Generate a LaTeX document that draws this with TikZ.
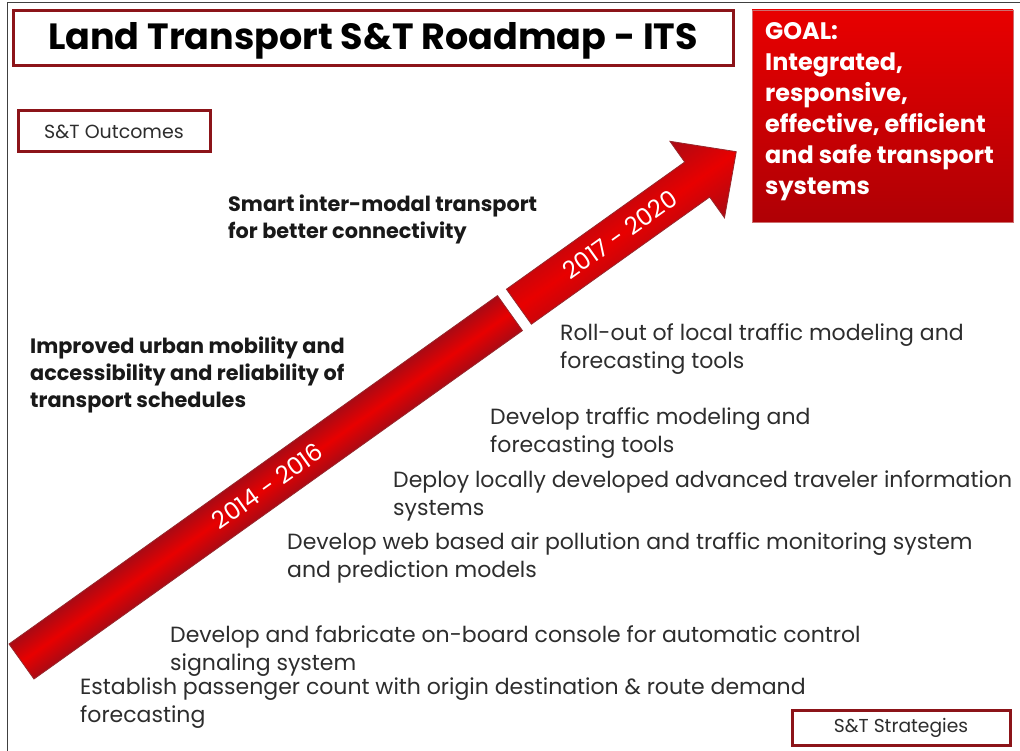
\documentclass[tikz,border=0pt]{standalone}
\usepackage{fontspec}
\setmainfont{Poppins}
\definecolor{boxred}{RGB}{140,20,25}
\definecolor{txtgray}{RGB}{45,45,45}
\definecolor{arrred}{RGB}{232,0,0}
\definecolor{arrdark}{RGB}{170,10,20}
\definecolor{arredge}{RGB}{150,40,45}
\definecolor{goaltop}{RGB}{232,0,0}
\definecolor{goalbot}{RGB}{175,0,5}
\tikzset{
  redbox/.style={draw=boxred,line width=3pt,fill=white},
  strat/.style={anchor=base west,inner sep=0pt,align=left,text=txtgray,font=\fontsize{22}{27.7}\selectfont},
  outc/.style={anchor=base west,inner sep=0pt,align=left,text=black!90,font=\fontsize{20.8}{27}\selectfont\bfseries},
  yearlbl/.style={text=white,font=\fontsize{24}{28}\selectfont,rotate=35.5},
  band/.style={draw=arredge,line width=0.8pt,top color=arrdark,bottom color=arrdark,middle color=arrred},
}
\begin{document}
\begin{tikzpicture}[x=1pt,y=-1pt]
\useasboundingbox (0,0) rectangle (1020,751);
\fill[white] (0,0) rectangle (1020,751);
\draw[black!75,line width=1pt] (7,3) -- (1030,3);
\draw[black!75,line width=1pt] (7,3) -- (7,760);
% title
\node[redbox,minimum width=720pt,minimum height=55pt,inner sep=0pt] (title) at (373,38.5) {};
\node[inner sep=0pt,font=\fontsize{36.5}{40}\selectfont\bfseries] (titletext) at (373,41) {Land Transport S\&T Roadmap - ITS};
% outcome / strategy labels
\node[redbox,minimum width=192pt,minimum height=41pt,inner sep=0pt,font=\fontsize{19}{22}\selectfont,text=txtgray] (outbox) at (114,131.5) {S\&T Outcomes};
\node[redbox,minimum width=218pt,minimum height=35pt,inner sep=0pt,font=\fontsize{18.7}{22}\selectfont,text=txtgray] (stratbox) at (901,727.5) {S\&T Strategies};
% goal box
\node[draw={rgb,255:red,205;green,110;blue,110},line width=0.8pt,top color=goaltop,bottom color=goalbot,minimum width=261pt,minimum height=212pt,inner sep=0pt] (goal) at (882.5,116) {};
\node[anchor=north west,inner sep=0pt,align=left,text=white,font=\fontsize{23.9}{31}\selectfont\bfseries] (goaltext) at (765,22) {GOAL:\\Integrated,\\responsive,\\effective, efficient\\and safe transport\\systems};
% arrow
\begin{scope}[transform canvas={shift={(21.5,661.5)},rotate=35.5}]
  \path[band] (0,-21.5) -- (600,-21.5) -- (600,21.5) -- (0,21.5) -- cycle;
  \path[band] (611,-21.5) -- (830,-21.5) -- (830,-47) -- (878,0) -- (830,47) -- (830,21.5) -- (611,21.5) -- cycle;
\end{scope}
\begin{scope}[shift={(21.5,661.5)},rotate=35.5]
  \node[yearlbl] (y1) at (302,0) {2014 - 2016};
  \node[yearlbl] (y2) at (735,0) {2017 - 2020};
\end{scope}
% outcomes
\node[outc] (o1) at (228,239) {Smart inter-modal transport\\for better connectivity};
\node[outc] (o2) at (30,407) {Improved urban mobility and\\accessibility and reliability of\\transport schedules};
% strategies
\node[strat] (s1) at (560,368) {Roll-out of local traffic modeling and\\forecasting tools};
\node[strat] (s2) at (490,452) {Develop traffic modeling and\\forecasting tools};
\node[strat] (s3) at (393,515) {Deploy locally developed advanced traveler information\\systems};
\node[strat] (s4) at (287,577) {Develop web based air pollution and traffic monitoring system\\and prediction models};
\node[strat] (s5) at (170,670) {Develop and fabricate on-board console for automatic control\\signaling system};
\node[strat] (s6) at (80,722) {Establish passenger count with origin destination \& route demand\\forecasting};
\end{tikzpicture}
\end{document}
